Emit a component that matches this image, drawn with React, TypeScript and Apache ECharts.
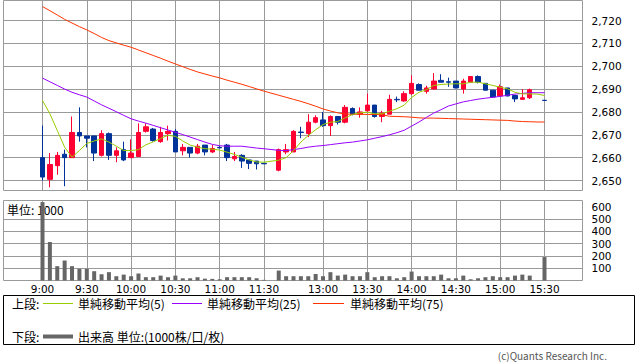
import { useEffect, useRef } from "react";
import * as echarts from "echarts";

const times: string[] = [
  "9:00", "9:05", "9:10", "9:15", "9:20", "9:25", "9:30", "9:35", "9:40", "9:45",
  "9:50", "9:55", "10:00", "10:05", "10:10", "10:15", "10:20", "10:25", "10:30", "10:35",
  "10:40", "10:45", "10:50", "10:55", "11:00", "11:05", "11:10", "11:15", "11:20", "11:25",
  "11:30", "", "12:30", "12:35", "12:40", "12:45", "12:50", "12:55", "13:00", "13:05",
  "13:10", "13:15", "13:20", "13:25", "13:30", "13:35", "13:40", "13:45", "13:50", "13:55",
  "14:00", "14:05", "14:10", "14:15", "14:20", "14:25", "14:30", "14:35", "14:40", "14:45",
  "14:50", "14:55", "15:00", "15:05", "15:10", "15:15", "15:20", "15:25", "15:30",
];

const openP: (number | null)[] = [
  2660, 2650.5, 2656.5, 2661.5, 2660, 2671, 2669.5, 2669.5, 2661, 2670.5,
  2661, 2663.5, 2660, 2660.5, 2671.5, 2672.5, 2667, 2670.5, 2671.5, 2663,
  2664.5, 2662, 2665.5, 2662.5, 2664.5, 2665.5, 2659.5, 2661, 2659, 2658.5,
  2657.5, null, 2654.5, 2662.5, 2662.5, 2671.2, 2670.5, 2675.5, 2676.5, 2674,
  2678, 2675.5, 2681.5, 2679, 2680.5, 2683, 2678, 2679, 2685.5, 2684.8,
  2688, 2692, 2689, 2690, 2693.8, 2693.2, 2693.5, 2690, 2693, 2695.5,
  2692.5, 2689.5, 2687, 2690.5, 2687.2, 2685.5, 2686.2, null, 2685.1,
];
const closeP: (number | null)[] = [
  2651.5, 2657, 2661, 2660, 2671, 2669.5, 2668.5, 2662, 2670.5, 2661,
  2663, 2659, 2662, 2671, 2673.5, 2667.5, 2671, 2671.5, 2662.5, 2664.5,
  2662, 2665, 2662.5, 2664, 2664.3, 2660, 2660.5, 2658.5, 2657.5, 2657.3,
  2657.3, null, 2663.5, 2663.5, 2671.5, 2671, 2675.5, 2677.5, 2674, 2678,
  2675.5, 2682, 2679, 2680, 2683, 2678, 2679.5, 2685.5, 2685.3, 2688,
  2692.5, 2689.5, 2690.5, 2693.5, 2693, 2693, 2690.5, 2693.5, 2695.5, 2693,
  2689.5, 2686.5, 2691, 2687, 2685.7, 2686.2, 2689.7, null, 2685,
];
const lowP: (number | null)[] = [
  2650, 2647, 2652.5, 2647.5, 2660, 2667, 2664.5, 2658.5, 2660.5, 2659,
  2658, 2658.5, 2660, 2660.5, 2671, 2667, 2666.5, 2667.5, 2662.5, 2661,
  2660, 2661.5, 2661, 2662, 2664, 2658.5, 2658.5, 2655.5, 2655, 2654.8,
  2657.3, null, 2654, 2661.5, 2662.5, 2668.5, 2669, 2675, 2673.5, 2669.5,
  2674.5, 2675, 2678.5, 2677.5, 2680, 2677.5, 2675.5, 2679, 2684.3, 2684.5,
  2687.5, 2689.5, 2688, 2690, 2693, 2691, 2690.3, 2688, 2693, 2692.5,
  2689.5, 2686.3, 2687, 2686.8, 2684.3, 2685.3, 2685.7, null, 2685,
];
const highP: (number | null)[] = [
  2674, 2662, 2662.5, 2663.5, 2678, 2682, 2669.5, 2669.5, 2672, 2671,
  2664.5, 2667, 2668, 2675, 2675, 2673, 2673.5, 2674, 2672.5, 2666,
  2664.5, 2666, 2665.5, 2665.5, 2665, 2666, 2662.5, 2661.5, 2659, 2658.5,
  2657.5, null, 2664, 2666, 2672, 2673.5, 2679, 2678.5, 2680, 2678.5,
  2678, 2683, 2682, 2682, 2688, 2683, 2680.5, 2687.5, 2686.7, 2689,
  2696, 2692.5, 2691.5, 2697, 2696.5, 2695, 2693.5, 2694.5, 2695.5, 2696,
  2692.5, 2689.5, 2692, 2690.5, 2687.2, 2690, 2690.2, null, 2685.1,
];

const ma5: (number | null)[] = [
  2685, 2679.2, 2671.9, 2664.6, 2660.2, 2663.1, 2666.2, 2667.3, 2668.2, 2666.8,
  2665, 2663.1, 2663.1, 2663.5, 2665.6, 2666.9, 2668.4, 2669.8, 2669.3, 2667.3,
  2665.5, 2664.6, 2663.9, 2663.7, 2663.3, 2662.4, 2661.4, 2660.2, 2659, 2658.1,
  2658, null, 2658.9, 2660, 2663.1, 2666.8, 2669.7, 2672.2, 2674.5, 2675.5,
  2675.8, 2677.4, 2678.9, 2679.6, 2679.9, 2679.2, 2679.2, 2680.3, 2681.4, 2683,
  2686.3, 2688.6, 2689.7, 2691.6, 2692, 2692.2, 2692.3, 2692.3, 2693, 2693,
  2692.3, 2691.6, 2690.8, 2690.1, 2688.6, 2687.9, 2687.9, 2687.8, 2687.2,
];
const ma25: (number | null)[] = [
  2694.8, 2693.2, 2691.6, 2690, 2688.6, 2687.5, 2686.5, 2684.8, 2683.1, 2681.6,
  2680.1, 2678.5, 2677, 2676, 2675.1, 2674.1, 2673.1, 2672.1, 2671.1, 2670.1,
  2669, 2667.9, 2666.8, 2665.8, 2665.2, 2665, 2665, 2665, 2664.6, 2664.2,
  2663.9, null, 2663.2, 2663.1, 2663.5, 2664, 2664.6, 2665, 2665.3, 2665.7,
  2666.1, 2666.5, 2666.8, 2667.3, 2667.8, 2668.5, 2669.2, 2670, 2670.9, 2672,
  2673.8, 2675.6, 2677.6, 2679.5, 2681, 2682.6, 2683.5, 2684.4, 2685, 2685.6,
  2686, 2686.4, 2686.8, 2687.3, 2687.8, 2688.1, 2688.4, 2688.4, 2688.4,
];
const ma75: (number | null)[] = [
  2726.1, 2724.3, 2722.4, 2720.5, 2718.9, 2717.3, 2715.9, 2714.3, 2712.6, 2711.2,
  2710.2, 2709.2, 2708.3, 2707.1, 2705.9, 2704.7, 2703.5, 2702.2, 2701, 2699.8,
  2698.6, 2697.5, 2696.6, 2695.7, 2694.9, 2693.9, 2693, 2692.1, 2691.1, 2690.1,
  2689.1, null, 2687.3, 2686.4, 2685.5, 2684.6, 2683.6, 2682.5, 2681.3, 2680.4,
  2679.6, 2679.1, 2679, 2679, 2678.9, 2678.9, 2678.8, 2678.1, 2678, 2677.9,
  2677.7, 2677.4, 2677.3, 2677.3, 2677.2, 2677.1, 2677, 2676.9, 2676.8, 2676.7,
  2676.6, 2676.5, 2676.4, 2676.3, 2676, 2675.8, 2675.7, 2675.6, 2675.6,
];

const volume: (number | null)[] = [
  640, 314, 117, 163, 117, 95, 95, 76, 51, 68,
  35, 48, 35, 57, 27, 27, 40, 27, 40, 18,
  18, 27, 15, 13, 10, 27, 27, 27, 27, 18,
  5, null, 81, 35, 35, 35, 35, 53, 35, 68,
  40, 48, 35, 35, 68, 27, 35, 35, 18, 27,
  73, 35, 35, 35, 48, 18, 18, 40, 10, 18,
  27, 35, 27, 27, 40, 48, 40, null, 191,
];

const priceTicks = [2650, 2660, 2670, 2680, 2690, 2700, 2710, 2720];
const volumeTicks = [100, 200, 300, 400, 500, 600];
const volumeGridLines = [100, 200, 300, 400, 500];
const timeTickIdx = [0, 6, 12, 18, 24, 30, 38, 44, 50, 56, 62, 68];

const JP = "'Noto Sans CJK JP', sans-serif";
const NUM = "'DejaVu Sans', sans-serif";
const GRID_COLOR = "#9a9a9a";
const UP = "#ff0033";
const DOWN = "#003399";

function pairs(arr: (number | null)[]) {
  const out: [number, number][] = [];
  arr.forEach((v, i) => {
    if (v !== null) out.push([i, v]);
  });
  return out;
}

function buildOption() {
  const candles: number[][] = [];
  openP.forEach((o, i) => {
    if (o === null) return;
    candles.push([i, o, closeP[i] as number, lowP[i] as number, highP[i] as number]);
  });

  const xMin = -5.2829;
  const xMax = 73.1474;

  const xCommon = {
    type: "value" as const,
    min: xMin,
    max: xMax,
    axisLine: { show: false },
    splitLine: { show: true, lineStyle: { color: GRID_COLOR, width: 1 } },
  };

  return {
    animation: false,
    backgroundColor: "#ffffff",
    grid: [
      { left: 3.5, top: 0.5, width: 579, height: 190, show: true, borderColor: GRID_COLOR, borderWidth: 1, backgroundColor: "transparent" },
      { left: 3.5, top: 200.5, width: 579, height: 80, show: true, borderColor: GRID_COLOR, borderWidth: 1, backgroundColor: "transparent" },
    ],
    xAxis: [
      {
        ...xCommon,
        gridIndex: 0,
        axisTick: { show: false, customValues: timeTickIdx },
        axisLabel: { show: false, customValues: timeTickIdx },
      },
      {
        ...xCommon,
        gridIndex: 1,
        axisTick: { show: false, customValues: timeTickIdx },
        axisLabel: {
          show: true,
          customValues: timeTickIdx,
          formatter: (v: number) => times[Math.round(v)] ?? "",
          fontSize: 10.5,
          fontFamily: NUM,
          color: "#000",
          margin: 3,
        },
      },
    ],
    yAxis: [
      {
        type: "value",
        gridIndex: 0,
        position: "right",
        min: 2645.625,
        max: 2728.75,
        axisLine: { show: false },
        axisTick: { show: true, length: 5, customValues: priceTicks, lineStyle: { color: GRID_COLOR } },
        axisLabel: {
          customValues: priceTicks,
          formatter: (v: number) => v.toLocaleString("en-US"),
          fontSize: 10.5,
          fontFamily: NUM,
          color: "#000",
          margin: 9,
        },
        splitLine: { show: true, lineStyle: { color: GRID_COLOR, width: 1 } },
      },
      {
        type: "value",
        gridIndex: 1,
        position: "right",
        min: 0,
        max: 653,
        axisLine: { show: false },
        axisTick: { show: true, length: 5, customValues: volumeTicks, lineStyle: { color: GRID_COLOR } },
        axisLabel: {
          customValues: volumeTicks,
          fontSize: 10.5,
          fontFamily: NUM,
          color: "#000",
          margin: 9,
        },
        splitLine: { show: false },
      },
      {
        type: "value",
        gridIndex: 1,
        position: "right",
        min: 0,
        max: 653,
        axisLine: { show: false },
        axisTick: { show: false, customValues: volumeGridLines },
        axisLabel: { show: false, customValues: volumeGridLines },
        splitLine: { show: true, lineStyle: { color: GRID_COLOR, width: 1 } },
      },
    ],
    series: [
      {
        type: "candlestick",
        xAxisIndex: 0,
        yAxisIndex: 0,
        data: candles,
        encode: { x: 0, y: [1, 2, 3, 4] },
        barWidth: 5,
        z: 2,
        silent: true,
        itemStyle: { color: UP, color0: DOWN, borderColor: UP, borderColor0: DOWN, borderWidth: 1 },
      },
      {
        type: "line",
        xAxisIndex: 0,
        yAxisIndex: 0,
        data: pairs(ma75),
        symbol: "none",
        z: 3,
        silent: true,
        lineStyle: { color: "#ff3300", width: 1 },
      },
      {
        type: "line",
        xAxisIndex: 0,
        yAxisIndex: 0,
        data: pairs(ma25),
        symbol: "none",
        z: 3,
        silent: true,
        lineStyle: { color: "#9900ff", width: 1 },
      },
      {
        type: "line",
        xAxisIndex: 0,
        yAxisIndex: 0,
        data: pairs(ma5),
        symbol: "none",
        z: 3,
        silent: true,
        lineStyle: { color: "#99cc00", width: 1 },
      },
      {
        type: "bar",
        xAxisIndex: 1,
        yAxisIndex: 1,
        data: pairs(volume),
        barWidth: 4,
        z: 2,
        silent: true,
        itemStyle: { color: "#666666" },
      },
    ],
    graphic: [
      {
        type: "group",
        z: 100,
        children: [
          { type: "rect", shape: { x: 4, y: 201, width: 58, height: 17.5 }, style: { fill: "#ffffff" } },
          {
            type: "text",
            x: 7,
            y: 209.5,
            style: { text: "単位: 1000", fontSize: 12, fontFamily: JP, fill: "#000", verticalAlign: "middle", align: "left" },
          },
        ],
      },
      {
        type: "group",
        z: 100,
        children: [
          { type: "rect", shape: { x: 3.5, y: 295.5, width: 631, height: 49 }, style: { fill: "none", stroke: "#000", lineWidth: 1 } },
          { type: "text", x: 12, y: 303.5, style: { text: "上段:", fontSize: 12, fontFamily: JP, fill: "#000", verticalAlign: "middle" } },
          { type: "line", shape: { x1: 43, y1: 303.5, x2: 73, y2: 303.5 }, style: { stroke: "#99cc00", lineWidth: 1 } },
          { type: "text", x: 78, y: 303.5, style: { text: "単純移動平均(5)", fontSize: 12, fontFamily: JP, fill: "#000", verticalAlign: "middle" } },
          { type: "line", shape: { x1: 172, y1: 303.5, x2: 202, y2: 303.5 }, style: { stroke: "#9900ff", lineWidth: 1 } },
          { type: "text", x: 207, y: 303.5, style: { text: "単純移動平均(25)", fontSize: 12, fontFamily: JP, fill: "#000", verticalAlign: "middle" } },
          { type: "line", shape: { x1: 313, y1: 303.5, x2: 344, y2: 303.5 }, style: { stroke: "#ff3300", lineWidth: 1 } },
          { type: "text", x: 350, y: 303.5, style: { text: "単純移動平均(75)", fontSize: 12, fontFamily: JP, fill: "#000", verticalAlign: "middle" } },
          { type: "text", x: 12, y: 336.5, style: { text: "下段:", fontSize: 12, fontFamily: JP, fill: "#000", verticalAlign: "middle" } },
          { type: "line", shape: { x1: 43, y1: 336.5, x2: 73, y2: 336.5 }, style: { stroke: "#666666", lineWidth: 4 } },
          { type: "text", x: 78, y: 336.5, style: { text: "出来高 単位:(1000株/口/枚)", fontSize: 12, fontFamily: JP, fill: "#000", verticalAlign: "middle" } },
          { type: "text", x: 607, y: 355.5, style: { text: "(c)Quants Research Inc.", fontSize: 10, fontFamily: JP, fill: "#555", verticalAlign: "middle", align: "right" } },
        ],
      },
    ],
  };
}

export default function App() {
  const ref = useRef<HTMLDivElement>(null);
  useEffect(() => {
    if (!ref.current) return;
    const chart = echarts.init(ref.current, null, { renderer: "svg" });
    chart.setOption(buildOption() as any);
    return () => chart.dispose();
  }, []);
  return (
    <div
      ref={ref}
      style={{ position: "absolute", left: 0, top: 0, width: 638, height: 362, background: "#fff" }}
    />
  );
}
